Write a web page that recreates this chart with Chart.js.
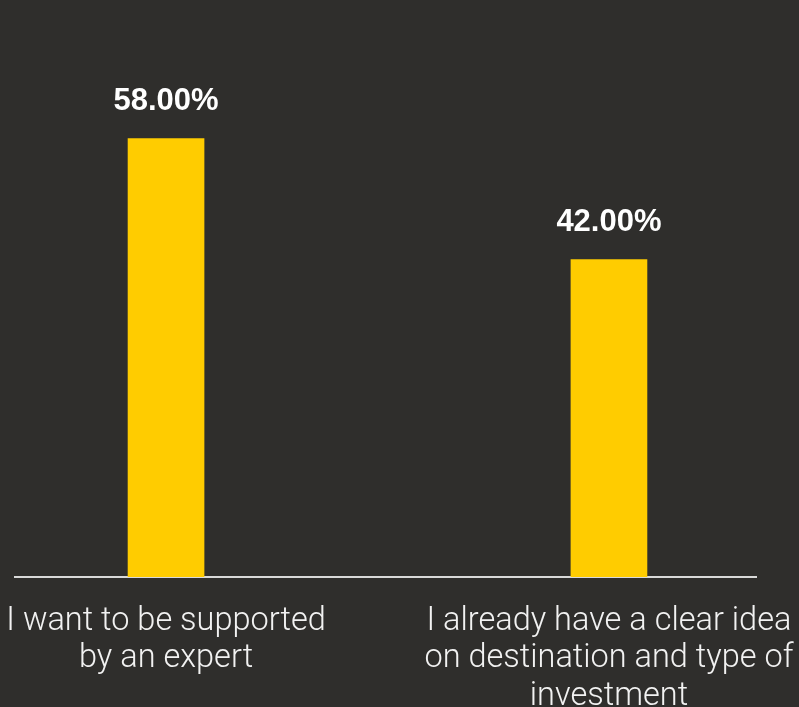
<!DOCTYPE html>
<html lang="en">
<head>
<meta charset="UTF-8">
<title>Expert support</title>
<script src="https://cdn.jsdelivr.net/npm/chart.js"></script>
<style>
    html, body {
        margin: 0;
        padding: 0;
        background: #2f2e2c;
    }
    canvas {
        display: block;
    }
</style>
</head>
<body>

<canvas id="supportChart" width="799" height="707"></canvas>

<script>
// answers and their share of respondents (%)
var categories = [
    ['I want to be supported', 'by an expert'],
    ['I already have a clear idea', 'on destination and type of', 'investment']
];
var shares = [58, 42];

var barColor = '#ffcc00';
var textColor = '#f2f2f2';

// percentage written above every bar
var valueLabels = {
    id: 'valueLabels',
    afterDatasetsDraw: function (chart) {
        var ctx = chart.ctx;
        var meta = chart.getDatasetMeta(0);
        ctx.save();
        ctx.fillStyle = '#ffffff';
        ctx.font = 'bold 31px "Liberation Sans", Arial, sans-serif';
        ctx.textAlign = 'center';
        ctx.textBaseline = 'alphabetic';
        meta.data.forEach(function (bar, i) {
            ctx.fillText(shares[i].toFixed(2) + '%', bar.x, bar.y - 29);
        });
        ctx.restore();
    }
};

var ctx = document.getElementById('supportChart').getContext('2d');
var supportChart = new Chart(ctx, {
    type: 'bar',
    data: {
        datasets: [{
            data: shares.map(function (v, i) { return { x: i, y: v }; }),
            backgroundColor: barColor,
            borderWidth: 0,
            barThickness: 76
        }]
    },
    options: {
        responsive: false,
        animation: false,
        layout: {
            padding: { left: 15, right: 43, top: 48, bottom: 0 }
        },
        scales: {
            x: {
                type: 'linear',
                offset: false,
                min: -0.341,
                max: 1.332,
                grid: { display: false },
                border: { display: true, color: '#d9d9d9', width: 2 },
                afterBuildTicks: function (scale) {
                    scale.ticks = categories.map(function (_, i) { return { value: i }; });
                },
                afterFit: function (scale) {
                    scale.paddingLeft = 0;
                    scale.paddingRight = 0;
                    scale.height = 130;
                },
                ticks: {
                    autoSkip: false,
                    maxRotation: 0,
                    padding: 18,
                    color: textColor,
                    font: { family: 'Roboto', weight: '300', size: 32.5, lineHeight: 1.154 },
                    callback: function (value) {
                        return categories[value];
                    }
                }
            },
            y: {
                display: false,
                min: 0,
                max: 70
            }
        },
        plugins: {
            legend: { display: false },
            tooltip: { enabled: false }
        }
    },
    plugins: [valueLabels]
});
</script>

</body>
</html>
